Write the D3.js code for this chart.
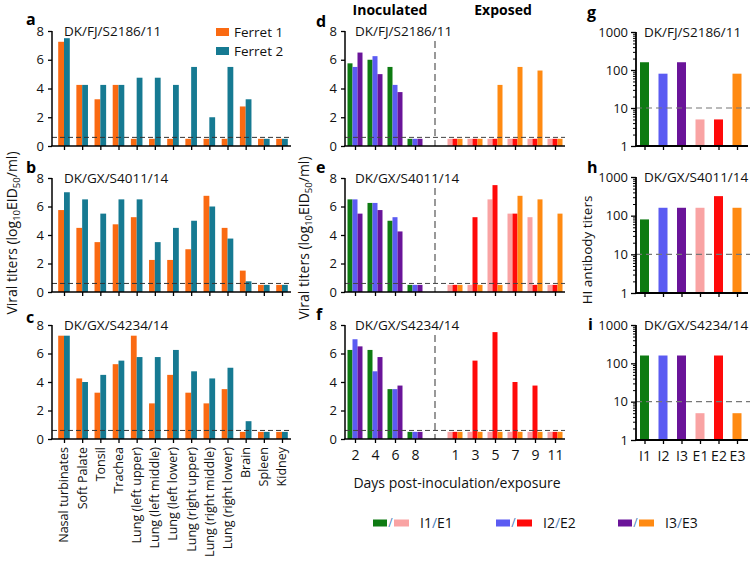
<!DOCTYPE html>
<html><head><meta charset="utf-8">
<script src="https://cdn.jsdelivr.net/npm/d3@7"></script>
<style>
html,body{margin:0;padding:0;background:#fff;}
svg{display:block;font-family:"Open Sans",sans-serif;}
</style></head>
<body>
<svg id="chart" width="750" height="567"></svg>
<script>
// ---------- DATA ----------
const strainNames = ["DK/FJ/S2186/11","DK/GX/S4011/14","DK/GX/S4234/14"];
const tissueNames = ["Nasal turbinates","Soft Palate","Tonsil","Trachea","Lung (left upper)","Lung (left middle)","Lung (left lower)","Lung (right upper)","Lung (right middle)","Lung (right lower)","Brain","Spleen","Kidney"];
const ferretNames = ["Ferret 1","Ferret 2"];
const fjFerret1     = [7.25,4.25,3.25,4.25,0.5,0.5,0.5,0.5,0.5,0.5,2.75,0.5,0.5];
const fjFerret2     = [7.5,4.25,4.25,4.25,4.75,4.75,4.25,5.5,2.0,5.5,3.25,0.5,0.5];
const gx4011Ferret1 = [5.75,4.5,3.5,4.75,5.25,2.25,2.25,3.0,6.75,4.5,1.5,0.5,0.5];
const gx4011Ferret2 = [7.0,6.5,5.5,6.5,6.5,3.5,4.5,5.0,6.0,3.75,0.75,0.5,0.5];
const gx4234Ferret1 = [7.25,4.25,3.25,5.25,7.25,2.5,4.5,3.25,2.5,3.5,0.5,0.5,0.5];
const gx4234Ferret2 = [7.25,4.0,4.5,5.5,5.75,5.75,6.25,4.75,4.25,5.0,1.25,0.5,0.5];

const inocDays = ["2","4","6","8"];
const expDays  = ["1","3","5","7","9","11"];
const fjI1 = [5.75,6.0,5.5,0.5];
const fjI2 = [5.5,6.25,4.25,0.5];
const fjI3 = [6.5,5.0,3.75,0.5];
const fjE1 = [0.5,0.5,0.5,0.5,0.5,0.5];
const fjE2 = [0.5,0.5,0.5,0.5,0.5,0.5];
const fjE3 = [0.5,0.5,4.25,5.5,5.25,0.5];
const gx4011I1 = [6.5,6.25,5.0,0.5];
const gx4011I2 = [6.5,6.25,5.25,0.5];
const gx4011I3 = [5.5,5.75,4.25,0.5];
const gx4011E1 = [0.5,0.5,6.5,5.5,5.25,0.5];
const gx4011E2 = [0.5,5.25,7.5,5.5,0.5,0.5];
const gx4011E3 = [0.5,0.5,0.5,6.75,6.5,5.5];
const gx4234I1 = [6.25,6.25,3.5,0.5];
const gx4234I2 = [7.0,4.75,3.5,0.5];
const gx4234I3 = [6.5,5.75,3.75,0.5];
const gx4234E1 = [0.5,0.5,0.5,0.5,0.5,0.5];
const gx4234E2 = [0.5,5.5,7.5,4.0,3.75,0.5];
const gx4234E3 = [0.5,0.5,0.5,0.5,0.5,0.5];

const hiGroups = ["I1","I2","I3","E1","E2","E3"];
const fjHI     = [160,80,160,5,5,80];
const gx4011HI = [80,160,160,160,320,160];
const gx4234HI = [160,160,160,5,160,5];

const viralTicks = [0,2,4,6,8];
const hiTicks = [1,10,100,1000];
const viralLimit = 0.6;
const hiLimit = 10;

// ---------- STYLE ----------
const ferretColors = ["#FA6A12","#167A92"];
const inocColors = ["#0E7B12","#5B5BF2","#6A1499"];
const expColors  = ["#F9A3A3","#FF0A0A","#FF8A12"];
const FONT = 13;

const svg = d3.select("#chart");
const lefts = {left:52, mid:345, right:636};
const rows = [{top:31,bottom:146},{top:178,bottom:292},{top:325,bottom:439}];
const rowsLog = [{top:32,bottom:146},{top:177,bottom:293},{top:325,bottom:440}];
const letters = [["a","d","g"],["b","e","h"],["c","f","i"]];
const letterBase = [[25,27,18],[173,173,173],[323,320,330]];

const leftData = [[fjFerret1,fjFerret2],[gx4011Ferret1,gx4011Ferret2],[gx4234Ferret1,gx4234Ferret2]];
const midInoc = [[fjI1,fjI2,fjI3],[gx4011I1,gx4011I2,gx4011I3],[gx4234I1,gx4234I2,gx4234I3]];
const midExp  = [[fjE1,fjE2,fjE3],[gx4011E1,gx4011E2,gx4011E3],[gx4234E1,gx4234E2,gx4234E3]];
const rightData = [fjHI,gx4011HI,gx4234HI];

const xTissue = d3.scalePoint().domain(tissueNames).range([64,282]);
const slotKeys = inocDays.map(d=>"i"+d).concat(["gap"]).concat(expDays.map(d=>"e"+d));
const xDay = d3.scalePoint().domain(slotKeys).range([355,555]);
const xHI = d3.scalePoint().domain(hiGroups).range([644.5,737]);

function styleAxis(g){
  g.selectAll("path.domain").remove();
  g.selectAll(".tick line").attr("stroke","#000").attr("stroke-width",1.3);
  g.selectAll(".tick text").attr("font-size",FONT).attr("fill","#111").attr("font-family","Open Sans");
}
function hline(x1,x2,y,opts){
  svg.append("line").attr("x1",x1).attr("x2",x2).attr("y1",y).attr("y2",y)
    .attr("stroke",opts.c||"#000").attr("stroke-width",opts.w||1.5)
    .attr("stroke-dasharray",opts.dash||null);
}
function vline(x,y1,y2,opts){
  svg.append("line").attr("x1",x).attr("x2",x).attr("y1",y1).attr("y2",y2)
    .attr("stroke",opts.c||"#000").attr("stroke-width",opts.w||1.5)
    .attr("stroke-dasharray",opts.dash||null);
}
function letter(t,x,y){
  svg.append("text").attr("x",x).attr("y",y).text(t).attr("font-size",16).attr("font-weight","bold").attr("fill","#000");
}
function title(t,x,y){
  svg.append("text").attr("x",x).attr("y",y).attr("dy","0.35em").text(t).attr("font-size",13.5).attr("fill","#111");
}

rows.forEach((r,ri)=>{
  // ---------- LEFT PANELS ----------
  const y = d3.scaleLinear().domain([0,8]).range([r.bottom,r.top]);
  const [s1,s2] = leftData[ri];
  const bw = 5.8;
  const gL = svg.append("g");
  [s1,s2].forEach((ser,si)=>{
    gL.selectAll(null).data(ser).enter().append("rect")
      .attr("x",(d,i)=>xTissue(tissueNames[i]) - bw + si*bw)
      .attr("width",bw)
      .attr("y",d=>y(d)).attr("height",d=>y(0)-y(d))
      .attr("fill",ferretColors[si]);
  });
  hline(lefts.left,291,y(viralLimit),{c:"#333",w:1,dash:"5,3"});
  const ay = svg.append("g").attr("transform",`translate(${lefts.left},0)`)
    .call(d3.axisLeft(y).tickValues(viralTicks).tickSize(4).tickPadding(4).tickFormat(d3.format("d")));
  styleAxis(ay);
  vline(lefts.left,r.top,r.bottom,{});
  const ax = svg.append("g").attr("transform",`translate(0,${r.bottom})`)
    .call(d3.axisBottom(xTissue).tickSize(4).tickFormat(""));
  styleAxis(ax);
  hline(lefts.left-0.75,291,r.bottom,{});
  title(strainNames[ri],64,r.top);
  letter(letters[ri][0],26,letterBase[ri][0]);
  if(ri===2){
    tissueNames.forEach(t=>{
      svg.append("text").attr("transform",`translate(${xTissue(t)},${r.bottom+8}) rotate(-90)`)
        .attr("text-anchor","end").attr("dy","0.35em").attr("font-size",12.5).attr("fill","#111").text(t);
    });
  }

  // ---------- MIDDLE PANELS ----------
  const bw2 = 5;
  const gM = svg.append("g");
  midInoc[ri].forEach((ser,si)=>{
    gM.selectAll(null).data(ser).enter().append("rect")
      .attr("x",(d,i)=>xDay("i"+inocDays[i]) - 1.5*bw2 + si*bw2)
      .attr("width",bw2).attr("y",d=>y(d)).attr("height",d=>y(0)-y(d))
      .attr("fill",inocColors[si]);
  });
  midExp[ri].forEach((ser,si)=>{
    gM.selectAll(null).data(ser).enter().append("rect")
      .attr("x",(d,i)=>xDay("e"+expDays[i]) - 1.5*bw2 + si*bw2)
      .attr("width",bw2).attr("y",d=>y(d)).attr("height",d=>y(0)-y(d))
      .attr("fill",expColors[si]);
  });
  hline(lefts.mid,565,y(viralLimit),{c:"#444",w:1,dash:"5,3"});
  vline(xDay("gap"),y(7.3),r.bottom,{c:"#555",w:1.2,dash:"7,4"});
  const my = svg.append("g").attr("transform",`translate(${lefts.mid},0)`)
    .call(d3.axisLeft(y).tickValues(viralTicks).tickSize(4).tickPadding(4).tickFormat(d3.format("d")));
  styleAxis(my);
  vline(lefts.mid,r.top,r.bottom,{});
  const mx = svg.append("g").attr("transform",`translate(0,${r.bottom})`)
    .call(d3.axisBottom(xDay).tickValues(slotKeys.filter(k=>k!=="gap")).tickSize(4)
      .tickPadding(7).tickFormat(k=> ri===2 ? k.slice(1) : ""));
  styleAxis(mx);
  mx.selectAll(".tick text").attr("font-size",14);
  hline(lefts.mid-0.75,565,r.bottom,{});
  title(strainNames[ri],355,r.top);
  letter(letters[ri][1],316,letterBase[ri][1]);

  // ---------- RIGHT PANELS ----------
  const rl = rowsLog[ri];
  const yl = d3.scaleLog().domain([1,1000]).range([rl.bottom,rl.top]);
  const bw3 = 9;
  svg.append("g").selectAll("rect").data(rightData[ri]).enter().append("rect")
    .attr("x",(d,i)=>xHI(hiGroups[i]) - bw3/2).attr("width",bw3)
    .attr("y",d=>yl(d)).attr("height",d=>yl(1)-yl(d))
    .attr("fill",(d,i)=> i<3 ? inocColors[i] : expColors[i-3]);
  hline(lefts.right,750,yl(hiLimit),{c:"#777",w:1.2,dash:"6,4"});
  const minor = [];
  [1,10,100].forEach(b=>{for(let k=2;k<=9;k++) minor.push(b*k);});
  const ryMinor = svg.append("g").attr("transform",`translate(${lefts.right},0)`)
    .call(d3.axisLeft(yl).tickValues(minor).tickSize(3).tickFormat(""));
  styleAxis(ryMinor);
  ryMinor.selectAll(".tick line").attr("stroke-width",1);
  const ry = svg.append("g").attr("transform",`translate(${lefts.right},0)`)
    .call(d3.axisLeft(yl).tickValues(hiTicks).tickSize(5).tickPadding(3).tickFormat(d3.format("d")));
  styleAxis(ry);
  vline(lefts.right,rl.top,rl.bottom,{w:1.8});
  const rx = svg.append("g").attr("transform",`translate(0,${rl.bottom})`)
    .call(d3.axisBottom(xHI).tickSize(4).tickPadding(7).tickFormat(k=> ri===2 ? k : ""));
  styleAxis(rx);
  rx.selectAll(".tick text").attr("font-size",14);
  hline(lefts.right-0.9,748,rl.bottom,{w:1.8});
  title(strainNames[ri],644,rl.top);
  letter(letters[ri][2],ri===2 ? 588 : 587,letterBase[ri][2]);
});

// ---------- AXIS TITLES ----------
function viralTitle(x,y){
  const t = svg.append("text").attr("transform",`translate(${x},${y}) rotate(-90)`)
    .attr("text-anchor","middle").attr("font-size",14).attr("fill","#111");
  t.append("tspan").text("Viral titers (log");
  t.append("tspan").attr("font-size",9.5).attr("dy",3).text("10");
  t.append("tspan").attr("dy",-3).text("EID");
  t.append("tspan").attr("font-size",9.5).attr("dy",3).text("50");
  t.append("tspan").attr("dy",-3).text("/ml)");
}
viralTitle(17,233);
viralTitle(309,238);
svg.append("text").attr("transform","translate(592,250) rotate(-90)")
  .attr("text-anchor","middle").attr("font-size",13.5).attr("fill","#111").text("HI antibody titers");
svg.append("text").attr("x",457).attr("y",483).attr("dy","0.35em").attr("text-anchor","middle")
  .attr("font-size",14).attr("fill","#111").text("Days post-inoculation/exposure");
svg.append("text").attr("x",390).attr("y",10).attr("dy","0.35em").attr("text-anchor","middle")
  .attr("font-size",14).attr("font-weight","bold").text("Inoculated");
svg.append("text").attr("x",503).attr("y",10).attr("dy","0.35em").attr("text-anchor","middle")
  .attr("font-size",14).attr("font-weight","bold").text("Exposed");

// ---------- LEGENDS ----------
ferretNames.forEach((n,i)=>{
  const yy = 32 + i*19;
  svg.append("rect").attr("x",216).attr("y",yy-4).attr("width",13).attr("height",8).attr("fill",ferretColors[i]);
  svg.append("text").attr("x",234).attr("y",yy).attr("dy","0.35em").attr("font-size",13.5).attr("fill","#111").text(n);
});
const legendX = [373,496,618];
hiGroups.slice(0,3).forEach((g,i)=>{
  const x0 = legendX[i], yy = 523;
  svg.append("rect").attr("x",x0).attr("y",yy-3.5).attr("width",14).attr("height",7).attr("fill",inocColors[i]);
  svg.append("text").attr("x",x0+17.5).attr("y",yy).attr("dy","0.35em").attr("text-anchor","middle")
    .attr("font-size",12).attr("fill","#4A7EBB").text("/");
  svg.append("rect").attr("x",x0+21).attr("y",yy-3.5).attr("width",15).attr("height",7).attr("fill",expColors[i]);
  const t = svg.append("text").attr("x",x0+47).attr("y",yy).attr("dy","0.35em").attr("font-size",14).attr("fill","#111");
  t.append("tspan").text(g);
  t.append("tspan").attr("fill","#4A7EBB").text("/");
  t.append("tspan").text(hiGroups[i+3]);
});
</script>
</body></html>
